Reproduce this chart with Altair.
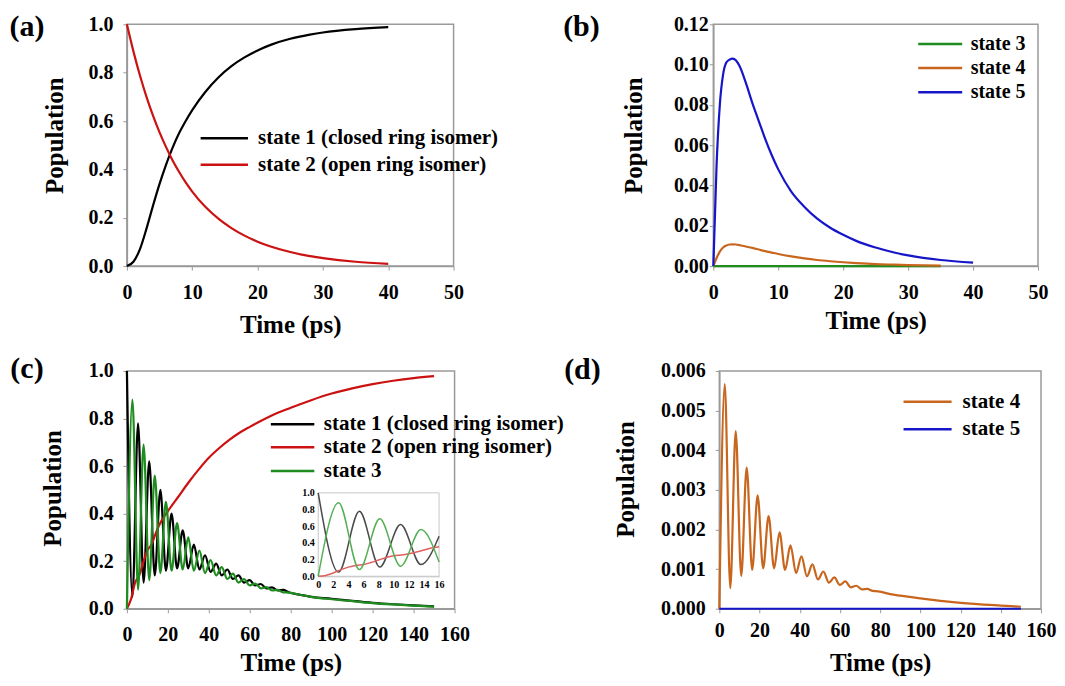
import altair as alt
import pandas as pd

FONT = "Liberation Serif"

# ---------------- data ----------------
panel_labels = ["(a)", "(b)", "(c)", "(d)"]

# (a)
a_time = [0, 1, 2, 3, 4, 5, 6, 7, 8, 9, 10, 12, 14, 16, 18, 20, 22, 25, 28, 30, 35, 40]
a_state1 = [0.0, 0.018, 0.07, 0.155, 0.25, 0.34, 0.42, 0.49, 0.55, 0.60, 0.645, 0.72,
            0.78, 0.827, 0.863, 0.892, 0.915, 0.94, 0.957, 0.966, 0.98, 0.988]
a_state2 = [1.0, 0.888, 0.788, 0.70, 0.622, 0.553, 0.492, 0.437, 0.389, 0.346, 0.308, 0.245,
            0.196, 0.157, 0.126, 0.101, 0.081, 0.058, 0.041, 0.033, 0.018, 0.009]
a_names = ["state 1 (closed ring isomer)", "state 2 (open ring isomer)"]

# (b)
b_time3 = [0, 35]
b_state3 = [0.0, 0.0]
b_time4 = [0, 0.5, 1, 1.5, 2, 2.5, 3, 3.5, 4, 5, 6, 7, 8, 9, 10, 12, 14, 16, 18, 20, 22, 25, 28, 30, 35]
b_state4 = [0, 0.004, 0.0072, 0.0092, 0.0102, 0.0107, 0.0108, 0.0107, 0.0104, 0.0097, 0.009,
            0.0082, 0.0074, 0.0067, 0.006, 0.0048, 0.0038, 0.003, 0.0024, 0.0019, 0.0015,
            0.001, 0.0007, 0.0005, 0.0002]
b_time5 = [0, 0.5, 1, 1.5, 2, 2.5, 3, 3.5, 4, 5, 6, 7, 8, 9, 10, 12, 14, 16, 18, 20, 22, 25, 28, 30, 35, 40]
b_state5 = [0, 0.05, 0.08, 0.095, 0.101, 0.1025, 0.103, 0.102, 0.0995, 0.091, 0.081, 0.072,
            0.063, 0.055, 0.048, 0.037, 0.0295, 0.0235, 0.019, 0.0155, 0.0125, 0.0092, 0.0066,
            0.0053, 0.003, 0.0017]
b_names = ["state 3", "state 4", "state 5"]

# (c) and (d): sampled at the oscillation extrema
cd_time = [0, 2.7, 5.45, 8.15, 10.9, 13.6, 16.35, 19.05, 21.8, 24.5,
           27.25, 29.95, 32.7, 35.4, 38.15, 40.85, 43.6, 46.3, 49.05, 51.75,
           54.5, 57.2, 59.95, 62.65, 65.4, 68.1, 70.85, 73.55, 76.3, 79.0,
           85, 90, 100, 110, 120, 130, 140, 150]
c_state1 = [1.0, 0.05, 0.78, 0.11, 0.62, 0.14, 0.50, 0.16, 0.40, 0.17,
            0.33, 0.17, 0.27, 0.165, 0.225, 0.155, 0.19, 0.14, 0.165, 0.125,
            0.14, 0.11, 0.12, 0.098, 0.104, 0.086, 0.09, 0.077, 0.079, 0.069,
            0.058, 0.05, 0.042, 0.033, 0.025, 0.019, 0.014, 0.01]
c_state3 = [0.0, 0.88, 0.08, 0.69, 0.12, 0.56, 0.15, 0.45, 0.16, 0.36,
            0.165, 0.30, 0.16, 0.245, 0.15, 0.205, 0.14, 0.175, 0.125, 0.148,
            0.11, 0.125, 0.098, 0.106, 0.086, 0.091, 0.077, 0.079, 0.069, 0.068,
            0.058, 0.05, 0.04, 0.032, 0.024, 0.018, 0.013, 0.009]
c_time2 = [0, 2, 4, 6, 8, 10, 12, 14, 16, 18, 20, 22, 25, 30, 35, 40, 45, 50, 55, 60,
           70, 80, 90, 100, 110, 120, 130, 140, 150]
c_state2 = [0, 0.04, 0.11, 0.14, 0.195, 0.245, 0.27, 0.315, 0.355, 0.385,
            0.41, 0.435, 0.47, 0.53, 0.585, 0.635, 0.675, 0.71, 0.74, 0.765,
            0.81, 0.845, 0.877, 0.905, 0.927, 0.945, 0.959, 0.97, 0.978]
c_names = ["state 1 (closed ring isomer)", "state 2 (open ring isomer)", "state 3"]

# (c) inset, 0-16 ps
ins_time = [0, 2.7, 5.45, 8.15, 10.9, 13.6, 16]
ins_state1 = [1.0, 0.05, 0.78, 0.11, 0.62, 0.14, 0.48]
ins_state3 = [0.0, 0.88, 0.08, 0.69, 0.12, 0.56, 0.17]
ins_time2 = [0, 1, 2, 3, 4, 5, 6, 7, 8, 9, 10, 11, 12, 13, 14, 15, 16]
ins_state2 = [0, 0.01, 0.04, 0.08, 0.11, 0.13, 0.14, 0.165, 0.195, 0.225,
              0.245, 0.255, 0.27, 0.29, 0.315, 0.34, 0.355]

# (d)
d_state4 = [0, 0.00567, 0.00052, 0.00448, 0.00083, 0.00356, 0.00098, 0.00286, 0.00102, 0.00234,
            0.00102, 0.00193, 0.00098, 0.0016, 0.0009, 0.00132, 0.00082, 0.00112, 0.00074, 0.00094,
            0.00066, 0.00079, 0.0006, 0.00069, 0.00054, 0.00058, 0.00049, 0.0005, 0.00045, 0.00044,
            0.00037, 0.00033, 0.00026, 0.0002, 0.00015, 0.00011, 0.00008, 0.00005]
d_time5 = [0, 150]
d_state5 = [0.0, 0.0]
d_names = ["state 4", "state 5"]

# tick values
x_ticks_ab = [0, 10, 20, 30, 40, 50]
x_ticks_cd = [0, 20, 40, 60, 80, 100, 120, 140, 160]
y_ticks_ac = [0, 0.2, 0.4, 0.6, 0.8, 1.0]
y_ticks_b = [0, 0.02, 0.04, 0.06, 0.08, 0.10, 0.12]
y_ticks_d = [0, 0.001, 0.002, 0.003, 0.004, 0.005, 0.006]
inset_x_ticks = [0, 2, 4, 6, 8, 10, 12, 14, 16]

# colours
BLACK, RED, GREEN, ORANGE, BLUE = "#000000", "#cc1111", "#1e8c1e", "#c8661e", "#1616c8"
INSET_COLORS = ["#4a4a4a", "#e06060", "#55b055"]


def long_df(pairs):
    frames = []
    for name, t, v in pairs:
        frames.append(pd.DataFrame({"t": t, "v": v, "s": name}))
    return pd.concat(frames, ignore_index=True)


dummy = pd.DataFrame({"k": [0]})


def x_axis(vals, lp, tp):
    return alt.Axis(values=vals, format="d", title="Time (ps)", labelPadding=lp, titlePadding=tp,
                    labelFlush=False, labelOverlap=False, labelBound=False)


def y_axis(vals, fmt, lp, tp, ty):
    return alt.Axis(values=vals, format=fmt, title="Population", labelPadding=lp, titlePadding=tp,
                    titleY=ty, labelFlush=False, labelOverlap=False, labelBound=False)


def lines(df, names, colors, xdom, ydom, xax, yax):
    return alt.Chart(df).mark_line(strokeWidth=2.2, interpolate="monotone").encode(
        x=alt.X("t:Q", scale=alt.Scale(domain=xdom, nice=False, zero=False), axis=xax),
        y=alt.Y("v:Q", scale=alt.Scale(domain=ydom, nice=False), axis=yax),
        color=alt.Color("s:N", scale=alt.Scale(domain=names, range=colors), legend=None),
    )


def legend(names, colors, x0, x1, ys, tx, size=21):
    out = []
    for nm, col, y in zip(names, colors, ys):
        out.append(alt.Chart(dummy).mark_rule(color=col, strokeWidth=2.5).encode(
            x=alt.value(x0), x2=alt.value(x1), y=alt.value(y)))
        out.append(alt.Chart(dummy).mark_text(align="left", baseline="middle", font=FONT,
                                              fontWeight="bold", fontSize=size, color="black").encode(
            x=alt.value(tx), y=alt.value(y), text=alt.value(nm)))
    return out


def plabel(txt, x, y):
    return alt.Chart(dummy).mark_text(align="center", baseline="middle", font=FONT,
                                      fontWeight="bold", fontSize=30, color="black").encode(
        x=alt.value(x), y=alt.value(y), text=alt.value(txt))


# ---------------- panel (a) ----------------
df_a = long_df([(a_names[0], a_time, a_state1), (a_names[1], a_time, a_state2)])
pa = alt.layer(
    lines(df_a, a_names, [BLACK, RED], [0, 50], [0, 1],
          x_axis(x_ticks_ab, 12.9, 9.9), y_axis(y_ticks_ac, ".1f", 10, 20, 111)),
    *legend(a_names, [BLACK, RED], 73.8, 121.2, [114, 140.6], 131.3),
    plabel(panel_labels[0], -100, 3),
).properties(width=327, height=242)

# ---------------- panel (b) ----------------
df_b = long_df([(b_names[0], b_time3, b_state3), (b_names[1], b_time4, b_state4),
                (b_names[2], b_time5, b_state5)])
pb = alt.layer(
    lines(df_b, b_names, [GREEN, ORANGE, BLUE], [0, 50], [0, 0.12],
          x_axis(x_ticks_ab, 12.1, 6.6), y_axis(y_ticks_b, ".2f", 1, 27, 111)),
    *legend(b_names, [GREEN, ORANGE, BLUE], 205.1, 249.1, [19.7, 43.7, 68], 257.6, 20),
    plabel(panel_labels[1], -132, 3),
).properties(width=325, height=242)

# ---------------- panel (c) ----------------
df_c = long_df([(c_names[0], cd_time, c_state1), (c_names[1], c_time2, c_state2),
                (c_names[2], cd_time, c_state3)])
df_ins = long_df([(c_names[0], ins_time, ins_state1), (c_names[1], ins_time2, ins_state2),
                  (c_names[2], ins_time, ins_state3)])
IX0, IX1, IY0, IY1 = 191.5, 312.5, 122.0, 205.5
C_H = 238
inset_lines = alt.Chart(df_ins).mark_line(strokeWidth=1.5, interpolate="monotone").encode(
    x=alt.X("t:Q", scale=alt.Scale(domain=[0, 16], range=[IX0, IX1], nice=False, zero=False),
            axis=alt.Axis(orient="bottom", offset=IY1 - C_H, values=inset_x_ticks, format="d",
                          title=None, labelFontSize=10, labelPadding=3, tickSize=0,
                          domainColor="#b8b8b8", domainWidth=1, labelFlush=False,
                          labelOverlap=False, labelBound=False)),
    y=alt.Y("v:Q", scale=alt.Scale(domain=[0, 1], range=[IY1, IY0], nice=False),
            axis=alt.Axis(orient="left", offset=-IX0, values=y_ticks_ac, format=".1f",
                          title=None, labelFontSize=10, labelPadding=4, tickSize=0,
                          domainColor="#b8b8b8", domainWidth=1, labelFlush=False,
                          labelOverlap=False, labelBound=False)),
    color=alt.Color("s:N", scale=alt.Scale(domain=c_names, range=INSET_COLORS), legend=None),
)
inset_box = alt.Chart(dummy).mark_rect(fill="white", stroke="#c8c8c8", strokeWidth=1).encode(
    x=alt.value(IX0), x2=alt.value(IX1), y=alt.value(IY0), y2=alt.value(IY1))
pc = alt.layer(
    lines(df_c, c_names, [BLACK, RED, GREEN], [0, 160], [0, 1],
          x_axis(x_ticks_cd, 11.6, 6.5), y_axis(y_ticks_ac, ".1f", 9.6, 23, 117)),
    inset_box,
    inset_lines,
    *legend(c_names, [BLACK, RED, GREEN], 144.1, 187.6, [53.4, 76.4, 100], 197.1),
    plabel(panel_labels[2], -100, -2.3),
).resolve_scale(x="independent", y="independent", color="independent").properties(width=328, height=C_H)

# ---------------- panel (d) ----------------
df_d = long_df([(d_names[0], cd_time, d_state4), (d_names[1], d_time5, d_state5)])
pd_ = alt.layer(
    lines(df_d, d_names, [ORANGE, BLUE], [0, 160], [0, 0.006],
          x_axis(x_ticks_cd, 8.1, 10), y_axis(y_ticks_d, ".3f", 10, 22, 108)),
    *legend(d_names, [ORANGE, BLUE], 184.4, 232.5, [30.7, 58.3], 243.4),
    plabel(panel_labels[3], -137, -0.7),
).properties(width=322, height=C_H)

row1 = alt.hconcat(pa, pb, spacing=260, bounds="flush").resolve_scale(color="independent")
row2 = alt.hconcat(pc, pd_, spacing=265, bounds="flush").resolve_scale(color="independent")

chart = alt.vconcat(row1, row2, spacing=13).resolve_scale(color="independent").properties(
    padding={"left": 0, "top": 3, "right": 0, "bottom": 0},
    background="white",
).configure_view(
    stroke="#9a9a9a", strokeWidth=1.5
).configure_axis(
    grid=False, domainColor="#9a9a9a", domainWidth=1.5, tickColor="#9a9a9a", tickSize=4,
    labelFont=FONT, labelFontWeight="bold", labelFontSize=20, labelColor="black",
    titleFont=FONT, titleFontWeight="bold", titleFontSize=25, titleColor="black",
)

chart.save("out.html", embed_options={"renderer": "svg", "actions": False})
